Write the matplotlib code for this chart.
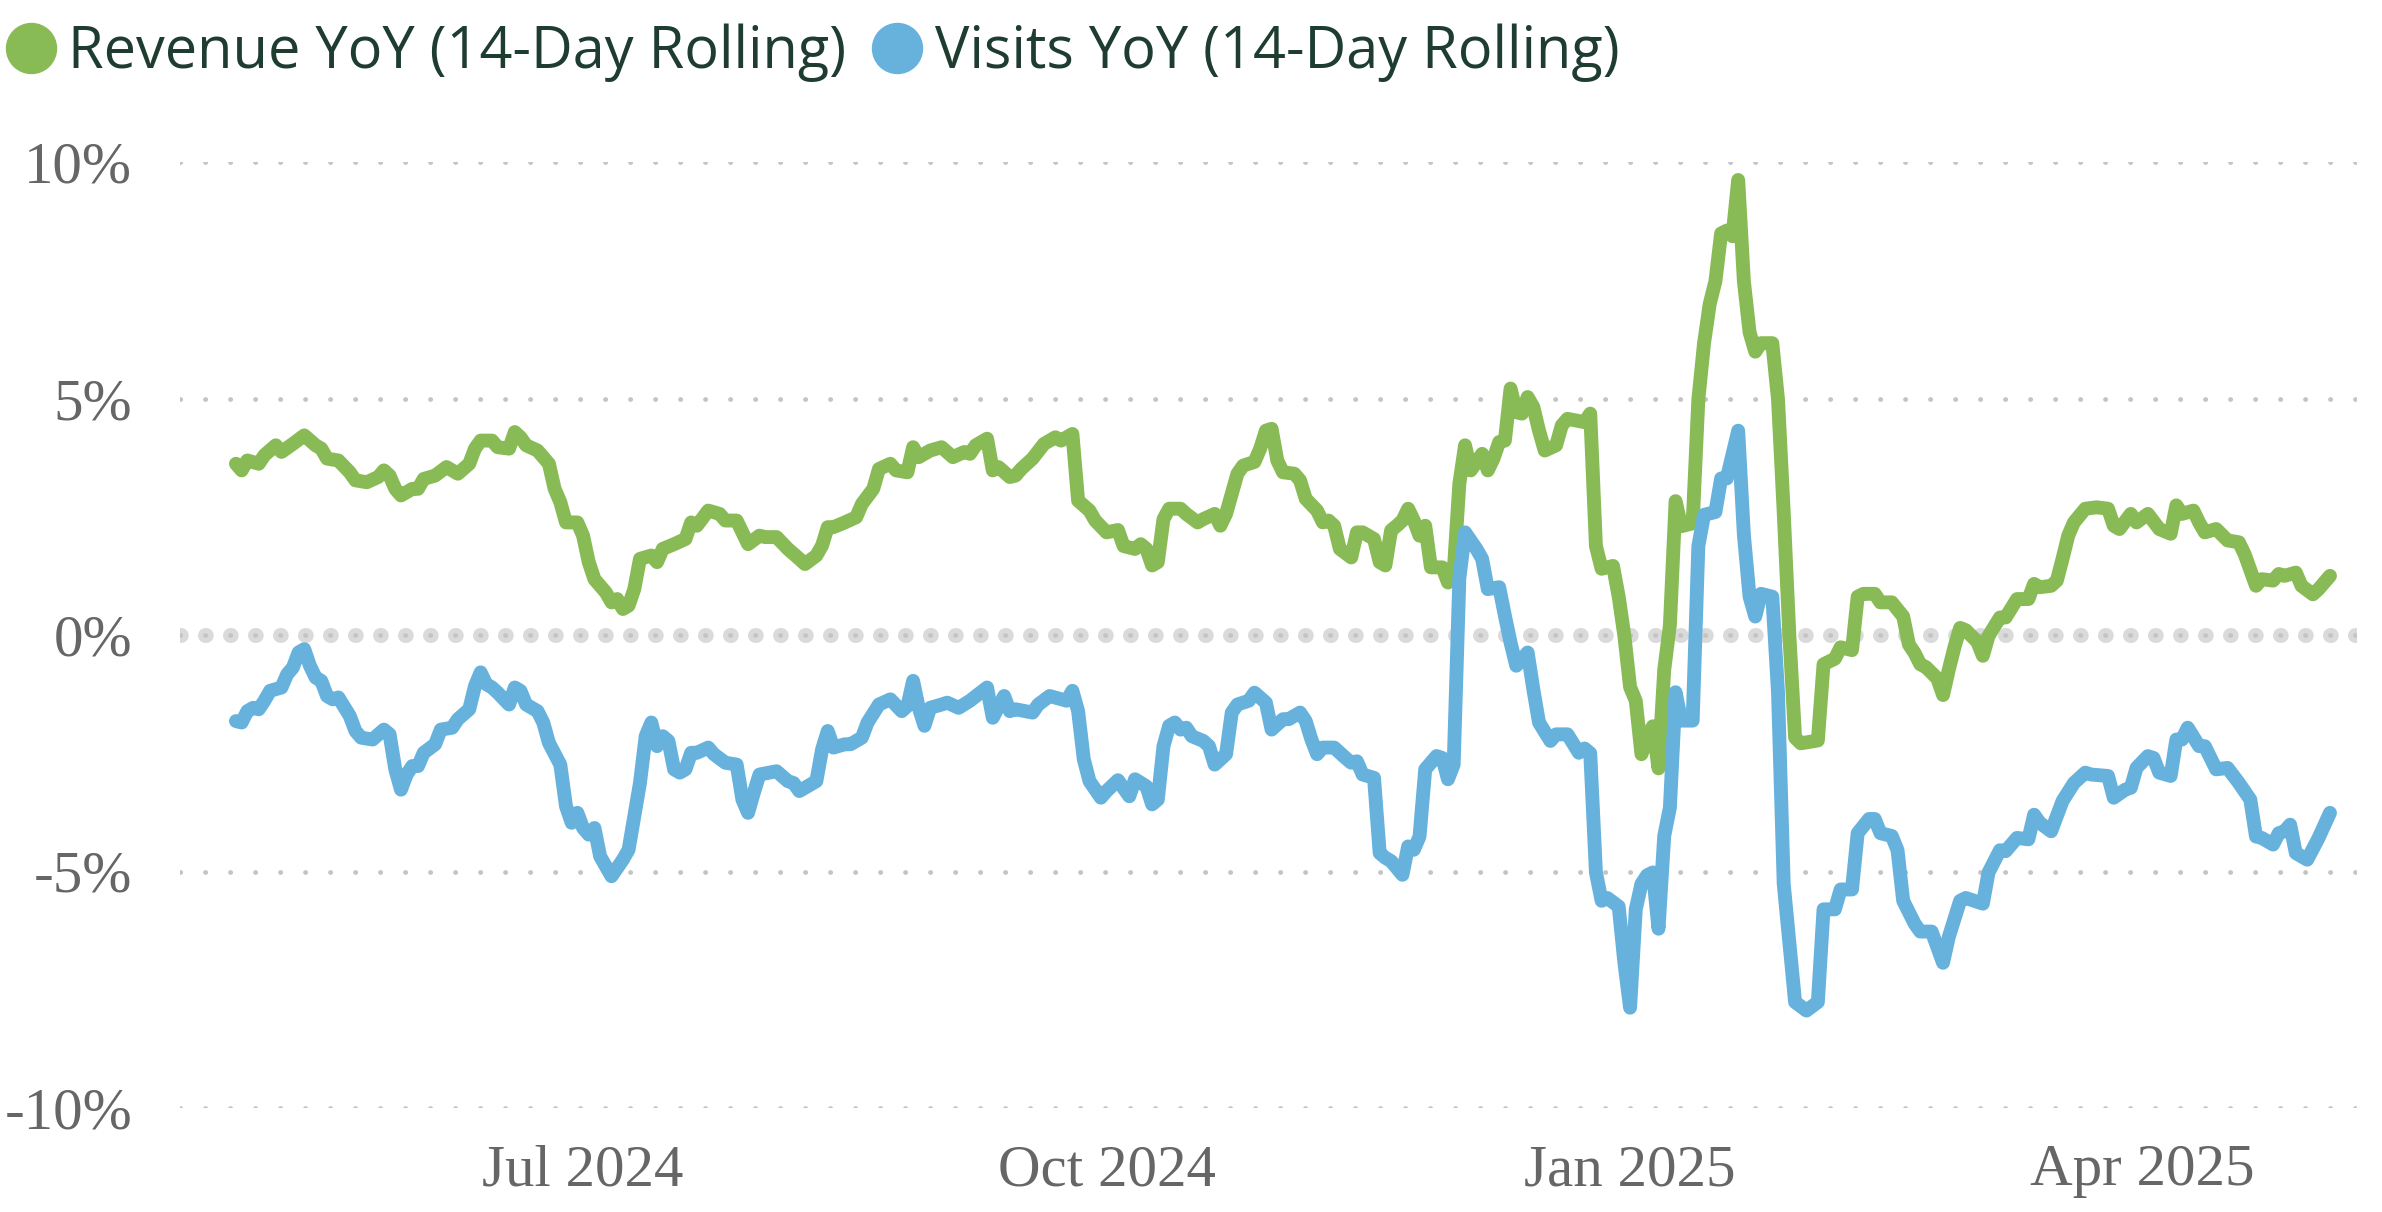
import matplotlib
matplotlib.use("Agg")
import matplotlib.pyplot as plt
from matplotlib.lines import Line2D
import pandas as pd
import numpy as np

# ---------------- data ----------------
start_date = "2024-05-01"

series_names = ["Revenue YoY (14-Day Rolling)", "Visits YoY (14-Day Rolling)"]
series_colors = ["#88bb55", "#66b2dd"]

rev_day = [0,1,2,4,5,7,8,10,12,14,
           15,16,18,20,21,23,25,26,27,28,
           29,31,32,33,35,37,39,41,42,43,
           45,46,48,49,50,51,53,55,56,57,
           58,60,61,62,63,65,66,67,68,69,
           70,71,73,74,75,77,79,80,81,83,
           85,86,88,90,92,93,95,97,99,100,
           102,103,104,105,107,109,110,112,113,115,
           116,118,119,120,122,124,126,128,129,130,
           132,133,134,136,137,138,140,142,143,144,
           145,147,148,150,151,153,155,156,158,159,
           160,161,162,163,164,166,167,169,170,172,
           173,174,176,177,179,180,181,182,183,184,
           186,187,188,190,191,192,193,194,196,197,
           198,200,201,202,203,204,205,206,207,208,
           209,210,212,213,214,215,216,217,219,220,
           221,222,223,224,225,226,227,228,229,230,
           232,233,234,237,238,239,240,242,243,244,
           245,246,247,248,249,250,251,252,253,254,
           256,257,258,259,260,261,262,263,264,265,
           266,267,268,270,271,272,273,274,275,278,
           279,281,282,284,285,286,288,289,291,293,
           294,295,296,297,299,300,301,302,303,304,
           306,307,308,310,311,313,315,316,317,319,
           320,321,322,323,325,327,329,330,331,333,
           334,336,338,340,341,342,344,345,346,348,
           350,352,353,355,356,358,359,360,362,363,
           365,366,368]

rev_val = [3.62,3.48,3.69,3.62,3.80,4.01,3.87,4.04,4.22,4.01,
           3.94,3.73,3.69,3.44,3.27,3.23,3.34,3.48,3.37,3.09,
           2.95,3.09,3.09,3.30,3.37,3.55,3.41,3.62,3.94,4.11,
           4.11,3.97,3.94,4.29,4.18,4.01,3.90,3.62,3.09,2.81,
           2.38,2.38,2.10,1.54,1.18,0.90,0.69,0.76,0.55,0.62,
           0.97,1.61,1.68,1.54,1.82,1.92,2.03,2.38,2.31,2.63,
           2.56,2.42,2.42,1.92,2.10,2.07,2.07,1.82,1.61,1.50,
           1.68,1.89,2.28,2.28,2.38,2.49,2.77,3.09,3.51,3.62,
           3.48,3.44,3.97,3.76,3.90,3.97,3.76,3.87,3.83,4.01,
           4.15,3.48,3.55,3.34,3.37,3.51,3.73,4.04,4.11,4.18,
           4.11,4.25,2.84,2.63,2.42,2.17,2.22,1.88,1.82,1.92,
           1.82,1.47,1.54,2.45,2.67,2.67,2.56,2.38,2.45,2.56,
           2.31,2.56,3.41,3.58,3.66,3.94,4.32,4.36,3.69,3.44,
           3.41,3.27,2.88,2.63,2.38,2.42,2.31,1.82,1.64,2.17,
           2.17,2.03,1.54,1.47,2.21,2.31,2.42,2.67,2.42,2.10,
           2.31,1.43,1.43,1.11,1.32,3.20,4.01,3.48,3.83,3.48,
           3.73,4.08,4.11,5.21,4.71,4.68,5.03,4.82,4.32,3.90,
           4.01,4.43,4.57,4.50,4.68,1.88,1.40,1.46,0.81,-0.02,
           -1.10,-1.39,-2.52,-2.17,-1.93,-2.82,-0.74,0.21,2.83,2.30,
           2.36,4.98,6.17,7.00,7.48,8.49,8.55,8.43,9.62,7.48,
           6.40,5.99,6.17,6.17,4.98,2.60,-0.02,-2.17,-2.29,-2.23,
           -0.62,-0.50,-0.26,-0.32,0.81,0.87,0.87,0.69,0.69,0.39,
           -0.20,-0.38,-0.62,-0.68,-0.92,-1.27,-0.74,-0.26,0.15,0.10,
           -0.14,-0.44,-0.02,0.37,0.37,0.76,0.76,1.08,1.01,1.04,
           1.15,1.61,2.10,2.38,2.67,2.70,2.67,2.31,2.24,2.56,
           2.38,2.56,2.24,2.14,2.74,2.56,2.63,2.38,2.17,2.24,
           2.00,1.96,1.71,1.04,1.18,1.15,1.29,1.25,1.32,1.04,
           0.86,0.97,1.25]

vis_day = [0,1,2,3,4,5,6,8,9,10,
           11,12,13,14,15,16,17,18,20,21,
           22,24,26,27,28,29,30,31,32,33,
           35,36,38,39,41,42,43,44,45,46,
           48,49,50,51,53,54,55,57,58,59,
           60,61,62,63,64,66,68,69,70,71,
           72,73,74,75,76,77,78,79,80,81,
           83,84,86,88,89,90,91,92,95,97,
           98,99,100,102,103,104,105,107,108,110,
           111,113,115,117,118,119,120,121,122,124,
           125,127,129,132,133,135,136,137,140,141,
           143,146,147,148,149,150,152,153,155,157,
           158,160,161,162,163,164,165,166,167,168,
           170,171,172,174,175,176,178,179,181,182,
           184,185,187,188,189,190,191,193,195,196,
           197,198,200,201,202,203,205,206,207,208,
           209,211,212,213,214,215,216,218,219,220,
           222,223,224,225,227,228,229,231,232,234,
           236,237,238,239,240,241,243,244,245,246,
           247,248,249,250,251,252,253,254,256,257,
           258,260,261,262,264,265,266,267,268,270,
           271,272,274,276,278,279,281,282,284,285,
           287,288,289,291,292,293,295,296,298,300,
           301,303,304,307,308,310,311,313,315,316,
           317,319,321,323,325,326,329,330,332,333,
           334,336,337,338,340,341,342,343,345,346,
           348,350,352,354,355,356,358,359,360,361,
           362,364,366,368]

vis_val = [-1.82,-1.85,-1.61,-1.54,-1.57,-1.39,-1.18,-1.11,-0.83,-0.69,
           -0.37,-0.30,-0.65,-0.90,-0.97,-1.29,-1.36,-1.32,-1.71,-2.03,
           -2.17,-2.21,-2.00,-2.10,-2.84,-3.27,-2.95,-2.77,-2.77,-2.49,
           -2.31,-2.00,-1.96,-1.78,-1.57,-1.08,-0.79,-1.04,-1.11,-1.22,
           -1.47,-1.11,-1.18,-1.47,-1.61,-1.85,-2.28,-2.74,-3.62,-3.97,
           -3.76,-4.08,-4.22,-4.08,-4.68,-5.10,-4.75,-4.54,-3.83,-3.13,
           -2.14,-1.85,-2.35,-2.14,-2.24,-2.84,-2.91,-2.84,-2.49,-2.49,
           -2.38,-2.52,-2.70,-2.74,-3.48,-3.76,-3.34,-2.95,-2.88,-3.09,
           -3.13,-3.30,-3.23,-3.09,-2.42,-2.03,-2.38,-2.31,-2.31,-2.17,
           -1.85,-1.47,-1.36,-1.61,-1.50,-0.97,-1.54,-1.92,-1.54,-1.47,
           -1.43,-1.54,-1.39,-1.11,-1.75,-1.29,-1.61,-1.57,-1.64,-1.47,
           -1.29,-1.39,-1.18,-1.61,-2.63,-3.09,-3.44,-3.30,-3.07,-3.41,
           -3.05,-3.20,-3.58,-3.48,-2.35,-1.92,-1.85,-2.00,-1.96,-2.14,
           -2.24,-2.35,-2.74,-2.52,-1.64,-1.47,-1.39,-1.22,-1.43,-2.00,
           -1.78,-1.78,-1.64,-1.82,-2.21,-2.52,-2.38,-2.38,-2.60,-2.70,
           -2.67,-2.95,-3.02,-4.61,-4.71,-4.78,-5.07,-4.47,-4.54,-4.26,
           -2.84,-2.56,-2.60,-3.05,-2.74,1.20,2.17,1.82,1.61,0.97,
           1.01,0.41,-0.16,-0.65,-0.37,-1.15,-1.85,-2.24,-2.10,-2.10,
           -2.49,-2.40,-2.50,-5.02,-5.62,-5.56,-5.74,-6.93,-7.88,-5.80,
           -5.26,-5.08,-5.02,-6.21,-4.25,-3.65,-1.21,-1.81,-1.81,1.88,
           2.54,2.60,3.31,3.31,4.32,2.12,0.81,0.39,0.87,0.81,
           -1.21,-5.26,-7.76,-7.94,-7.76,-5.80,-5.80,-5.38,-5.38,-4.19,
           -3.89,-3.89,-4.19,-4.25,-4.55,-5.62,-6.10,-6.27,-6.27,-6.93,
           -6.39,-5.62,-5.56,-5.68,-5.02,-4.55,-4.57,-4.29,-4.32,-3.80,
           -3.97,-4.15,-3.51,-3.13,-2.91,-2.95,-2.98,-3.44,-3.27,-3.23,
           -2.81,-2.56,-2.60,-2.91,-2.98,-2.21,-2.21,-1.96,-2.35,-2.35,
           -2.84,-2.81,-3.13,-3.48,-4.26,-4.29,-4.43,-4.19,-4.15,-4.01,
           -4.61,-4.75,-4.29,-3.76]

y_ticks = [-10, -5, 0, 5, 10]
y_tick_labels = ["-10%", "-5%", "0%", "5%", "10%"]
x_ticks = ["2024-07-01", "2024-10-01", "2025-01-01", "2025-04-01"]
x_tick_labels = ["Jul 2024", "Oct 2024", "Jan 2025", "Apr 2025"]
x_range = ["2024-04-21 04:00", "2025-05-08 18:00"]

assert len(rev_day) == len(rev_val)
assert len(vis_day) == len(vis_val)

t0 = pd.Timestamp(start_date)
rev_dates = t0 + pd.to_timedelta(rev_day, unit="D")
vis_dates = t0 + pd.to_timedelta(vis_day, unit="D")

# ---------------- figure ----------------
W, H = 2382, 1212
fig = plt.figure(figsize=(W / 100, H / 100), dpi=100)
fig.patch.set_facecolor("white")
ax = fig.add_axes([180 / W, 1 - 1108 / H, (2357 - 180) / W, (1108 - 162) / H])


def dot_style(px, spacing_px=25.0):
    on = 0.05
    return (0, (on, spacing_px / px - on))


# dotted grid
grid_px = 4.8
ax.set_axisbelow(True)
ax.yaxis.grid(True, color="#c4c4c4", linewidth=grid_px * 0.72,
              linestyle=dot_style(grid_px), dash_capstyle="round")
ax.xaxis.grid(False)
zero_px = 15
ax.axhline(0, color="#dadada", linewidth=zero_px * 0.72,
           linestyle=dot_style(zero_px), dash_capstyle="round", zorder=0.3)

lw = 10.0
ax.plot(rev_dates, rev_val, color=series_colors[0], lw=lw,
        solid_joinstyle="round", solid_capstyle="round", zorder=3)
ax.plot(vis_dates, vis_val, color=series_colors[1], lw=lw,
        solid_joinstyle="round", solid_capstyle="round", zorder=4)

ax.set_ylim(-10, 10)
ax.set_xlim(pd.Timestamp(x_range[0]), pd.Timestamp(x_range[1]))
ax.set_yticks(y_ticks)
ax.set_yticklabels(y_tick_labels)
ax.set_xticks([pd.Timestamp(d) for d in x_ticks])
ax.set_xticklabels(x_tick_labels)

for lab in ax.get_yticklabels() + ax.get_xticklabels():
    lab.set_fontfamily("Liberation Serif")
    lab.set_fontsize(42.5)
    lab.set_color("#666666")
ax.tick_params(axis="y", length=0, pad=34.5)
ax.tick_params(axis="x", length=0, pad=26)

for s in ax.spines.values():
    s.set_visible(False)

# legend
handles = [Line2D([], [], marker="o", linestyle="none", markersize=36,
                  markerfacecolor=c, markeredgecolor=c) for c in series_colors]
leg = fig.legend(handles, series_names, loc="center left",
                 bbox_to_anchor=(6 / W, 1 - 53 / H), ncol=2, frameon=False,
                 prop=dict(family="Open Sans", size=41.5),
                 handlelength=0.86, handletextpad=0.22, columnspacing=0.45,
                 borderpad=0, borderaxespad=0)
for t in leg.get_texts():
    t.set_color("#1e3d30")

fig.savefig("out.png", dpi=100, facecolor="white")
